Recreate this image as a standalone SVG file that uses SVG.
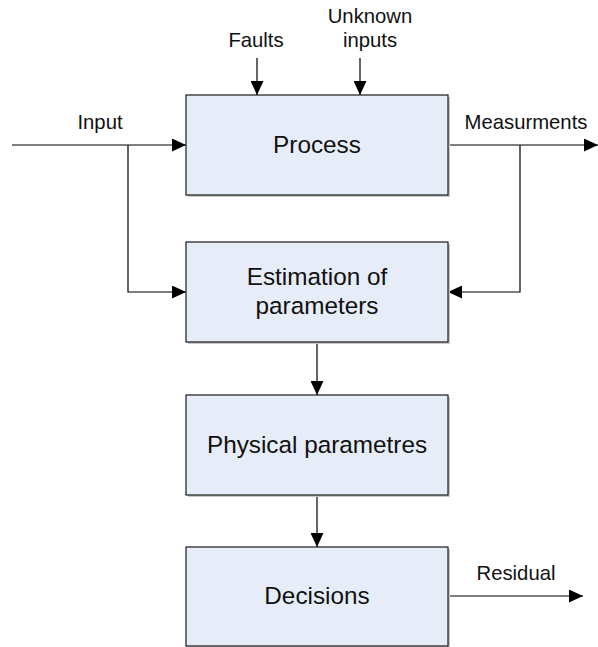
<svg xmlns="http://www.w3.org/2000/svg" width="598" height="647" viewBox="0 0 598 647">
  <style>
    .box { fill: #e7edf8; stroke: #1a1a1a; stroke-width: 1.2; }
    .shadow { fill: #c8c8c8; }
    .title { font-family: "Liberation Sans", Arial, sans-serif; font-size: 24.3px; fill: #111; text-anchor: middle; }
    .label { font-family: "Liberation Sans", Arial, sans-serif; font-size: 20.3px; fill: #111; text-anchor: middle; }
    .wire { fill: none; stroke: #000; stroke-width: 1.2; }
  </style>
  <defs>
    <marker id="arrow" viewBox="0 0 14 13" refX="14" refY="6.5" markerWidth="14" markerHeight="13" markerUnits="userSpaceOnUse" orient="auto">
      <path d="M0,0 L14,6.5 L0,13 Z" fill="#000"/>
    </marker>
  </defs>

  <!-- connectors -->
  <g id="connectors">
    <path class="wire" d="M12,145 H186" marker-end="url(#arrow)"/>
    <path class="wire" d="M128,145 V292 H186" marker-end="url(#arrow)"/>
    <path class="wire" d="M448,145 H598" marker-end="url(#arrow)"/>
    <path class="wire" d="M520,145 V292 H448" marker-end="url(#arrow)"/>
    <path class="wire" d="M257,58 V95" marker-end="url(#arrow)"/>
    <path class="wire" d="M360,58 V95" marker-end="url(#arrow)"/>
    <path class="wire" d="M317,342 V395" marker-end="url(#arrow)"/>
    <path class="wire" d="M317,495 V547" marker-end="url(#arrow)"/>
    <path class="wire" d="M448,596 H583" marker-end="url(#arrow)"/>
    <text class="label" x="100" y="129">Input</text>
    <text class="label" x="526" y="129">Measurments</text>
    <text class="label" x="256" y="47">Faults</text>
    <text class="label" x="370" y="23">Unknown</text>
    <text class="label" x="370" y="47">inputs</text>
    <text class="label" x="516" y="580">Residual</text>
  </g>

  <!-- process block -->
  <g id="process">
    <rect class="shadow" x="188" y="97" width="262" height="100"/>
    <rect class="box" x="186" y="95" width="262" height="100"/>
    <text class="title" x="317" y="153">Process</text>
  </g>

  <g id="estimation">
    <rect class="shadow" x="188" y="244" width="262" height="100"/>
    <rect class="box" x="186" y="242" width="262" height="100"/>
    <text class="title" x="317" y="285">Estimation of</text>
    <text class="title" x="317" y="314">parameters</text>
  </g>

  <g id="physical">
    <rect class="shadow" x="188" y="397" width="262" height="100"/>
    <rect class="box" x="186" y="395" width="262" height="100"/>
    <text class="title" x="317" y="453">Physical parametres</text>
  </g>

  <g id="decisions">
    <rect class="shadow" x="188" y="549" width="262" height="99"/>
    <rect class="box" x="186" y="547" width="262" height="99"/>
    <text class="title" x="317" y="604">Decisions</text>
  </g>
</svg>
